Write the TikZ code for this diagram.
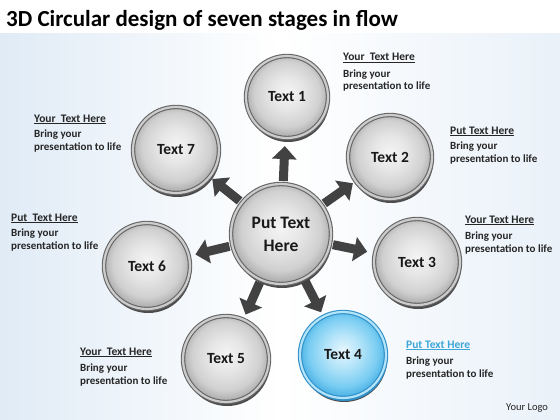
\documentclass[tikz,border=0pt]{standalone}
\usepackage{fontspec}
\setmainfont{Carlito}
\usetikzlibrary{arrows.meta,shadows,calc}
\definecolor{bl1}{HTML}{E6F6FE}
\definecolor{bl2}{HTML}{B4E4F9}
\definecolor{bl3}{HTML}{7ACDF2}
\definecolor{bl4}{HTML}{50B4E6}
\definecolor{blring}{HTML}{2F8FC8}
\definecolor{bghead}{HTML}{3CA6D9}
\definecolor{bgb}{HTML}{E0EBF6}
\definecolor{g1}{HTML}{F4F4F4}
\definecolor{g2}{HTML}{E6E6E6}
\definecolor{g3}{HTML}{D0D0D0}
\definecolor{g4}{HTML}{B0B0B0}
\pgfdeclareradialshading{greydisc}{\pgfpoint{0bp}{3bp}}{color(0bp)=(g1); color(10bp)=(g2); color(20bp)=(g3); color(25bp)=(g4); color(50bp)=(g4)}
\pgfdeclareradialshading{bluedisc}{\pgfpoint{0bp}{3bp}}{color(0bp)=(bl1); color(10bp)=(bl2); color(20bp)=(bl3); color(25bp)=(bl4); color(50bp)=(bl4)}
\tikzset{
  disc/.style={circle, inner sep=0pt, shading=greydisc, draw=black!60, line width=1.1pt,
    double=gray!40, double distance=2.2pt,
    drop shadow={shadow xshift=1.2pt, shadow yshift=-4pt, fill=black!70, opacity=1},
    font=\bfseries\fontsize{15.5}{17}\selectfont, text=black!90},
  bluedisc/.style={disc, shading=bluedisc, draw=blring, double=bl2,
    drop shadow={shadow xshift=1.2pt, shadow yshift=-3pt, fill=blring, opacity=1}},
  arr/.style={line width=9pt, draw=black!74, -{Triangle[width=24pt,length=13pt]}},
  head/.style={anchor=base west, font=\bfseries\fontsize{11.5}{13}\selectfont, text=black!85, inner sep=0pt},
  body/.style={anchor=base west, align=left, font=\bfseries\fontsize{11}{13}\selectfont, text=black!85, inner sep=0pt},
}
\begin{document}
\begin{tikzpicture}[x=1pt,y=-1pt]
\useasboundingbox (0,0) rectangle (560,420);
\fill[white] (0,0) rectangle (560,420);
\shade[left color=bgb, right color=bgb!70!white, middle color=white] (0,34) rectangle (560,420);
\node[anchor=base west, inner sep=0pt, font=\bfseries\fontsize{23}{26}\selectfont] (title) at (6,27) {3D Circular design of seven stages in flow};

\node[disc, minimum size=100pt, font=\bfseries\fontsize{17.5}{23}\selectfont, align=center] (c) at (281,234) {Put Text\\Here};
\node[disc, minimum size=82pt] (t1) at (287,97) {Text 1};
\node[disc, minimum size=84pt] (t2) at (390,157) {Text 2};
\node[disc, minimum size=86pt] (t3) at (417,262) {Text 3};
\node[bluedisc, minimum size=86pt] (t4) at (343,355) {Text 4};
\node[disc, minimum size=86pt] (t5) at (226,359) {Text 5};
\node[disc, minimum size=86pt] (t6) at (147,266) {Text 6};
\node[disc, minimum size=86pt] (t7) at (176,150) {Text 7};

\foreach \t in {t1,t2,t3,t4,t5,t6,t7}{
  \draw[arr] ($(c)!53pt!(\t)$) -- ($(c)!88pt!(\t)$);
}

\node[head] (h1) at (343,61) {\underline{Your\ \ Text Here}};
\node[body] (b1) at (343,90) {Bring your\\presentation to life};
\node[head] (h2) at (450,134) {\underline{Put Text Here}};
\node[body] (b2) at (450,162) {Bring your\\presentation to life};
\node[head] (h3) at (465,223) {\underline{Your Text Here}};
\node[body] (b3) at (465,252) {Bring your\\presentation to life};
\node[head, text=bghead] (h4) at (406,348) {\underline{Put Text Here}};
\node[body] (b4) at (406,377) {Bring your\\presentation to life};
\node[head] (h5) at (80,355) {\underline{Your\ \ Text Here}};
\node[body] (b5) at (80,384) {Bring your\\presentation to life};
\node[head] (h6) at (11,221) {\underline{Put\ \ Text Here}};
\node[body] (b6) at (11,249) {Bring your\\presentation to life};
\node[head] (h7) at (34,122) {\underline{Your\ \ Text Here}};
\node[body] (b7) at (34,150) {Bring your\\presentation to life};

\node[anchor=base west, inner sep=0pt, font=\fontsize{10.5}{12}\selectfont, text=black!85] (logo) at (506,410) {Your Logo};
\end{tikzpicture}
\end{document}
